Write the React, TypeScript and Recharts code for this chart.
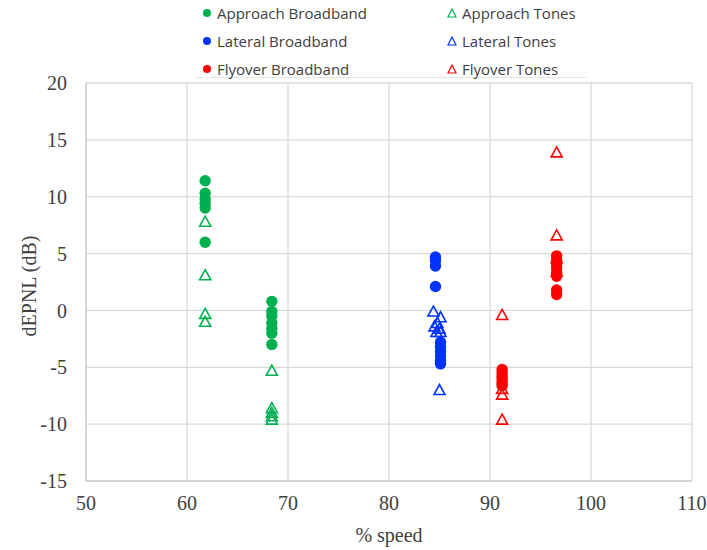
import React from 'react';
import { ScatterChart, Scatter, XAxis, YAxis, CartesianGrid } from 'recharts';

// % speed / dEPNL pairs, one pair of arrays per series
const approachBroadbandSpeed = [61.8, 61.8, 61.8, 61.8, 61.8, 61.8, 68.4, 68.4, 68.4, 68.4, 68.4, 68.4, 68.4];
const approachBroadbandDepnl = [11.4, 10.3, 9.8, 9.4, 9.0, 6.0, 0.8, -0.1, -0.5, -1.1, -1.6, -2.0, -3.0];

const approachTonesSpeed = [61.8, 61.8, 61.8, 61.8, 68.4, 68.4, 68.4, 68.4, 68.4];
const approachTonesDepnl = [7.8, 3.1, -0.3, -1.0, -5.3, -8.6, -9.0, -9.3, -9.6];

const lateralBroadbandSpeed = [84.6, 84.6, 84.6, 84.6, 85.1, 85.1, 85.1, 85.1, 85.1, 85.1];
const lateralBroadbandDepnl = [4.7, 4.4, 3.9, 2.1, -2.8, -3.2, -3.6, -4.0, -4.4, -4.7];

const lateralTonesSpeed = [84.4, 85.1, 84.8, 84.5, 85.0, 84.7, 85.1, 85.0];
const lateralTonesDepnl = [-0.1, -0.6, -1.1, -1.4, -1.6, -1.9, -1.9, -7.0];

const flyoverBroadbandSpeed = [91.2, 91.2, 91.2, 91.2, 91.2, 91.2, 96.6, 96.6, 96.6, 96.6, 96.6, 96.6, 96.6, 96.6];
const flyoverBroadbandDepnl = [-5.2, -5.5, -5.8, -6.1, -6.4, -6.6, 4.8, 4.4, 4.0, 3.7, 3.3, 3.0, 1.8, 1.4];

const flyoverTonesSpeed = [91.2, 91.2, 91.2, 91.2, 96.6, 96.6, 96.6, 96.6];
const flyoverTonesDepnl = [-0.4, -6.9, -7.4, -9.6, 13.9, 6.6, 4.6, 3.4];

const xTicks = [50, 60, 70, 80, 90, 100, 110];
const yTicks = [-15, -10, -5, 0, 5, 10, 15, 20];

const GREEN = '#00b050';
const BLUE = '#0033ff';
const RED = '#ff0000';

const pts = (xs: number[], ys: number[]) => xs.map((x, i) => ({ x, y: ys[i] }));

const series = [
  { name: 'Approach Broadband', color: GREEN, kind: 'dot', data: pts(approachBroadbandSpeed, approachBroadbandDepnl) },
  { name: 'Approach Tones', color: GREEN, kind: 'tri', data: pts(approachTonesSpeed, approachTonesDepnl) },
  { name: 'Lateral Broadband', color: BLUE, kind: 'dot', data: pts(lateralBroadbandSpeed, lateralBroadbandDepnl) },
  { name: 'Lateral Tones', color: BLUE, kind: 'tri', data: pts(lateralTonesSpeed, lateralTonesDepnl) },
  { name: 'Flyover Broadband', color: RED, kind: 'dot', data: pts(flyoverBroadbandSpeed, flyoverBroadbandDepnl) },
  { name: 'Flyover Tones', color: RED, kind: 'tri', data: pts(flyoverTonesSpeed, flyoverTonesDepnl) },
];

const makeShape = (kind: string, color: string) => (props: any) => {
  const { cx, cy } = props;
  if (kind === 'dot') return <circle cx={cx} cy={cy} r={5.7} fill={color} />;
  return (
    <path
      d={`M${cx},${cy - 5.5} L${cx + 5.5},${cy + 4.5} L${cx - 5.5},${cy + 4.5} Z`}
      fill="none"
      stroke={color}
      strokeWidth={1.6}
    />
  );
};

const axisFont = { fontFamily: '"Liberation Serif", "Times New Roman", serif', fontSize: 20, fill: '#404040' };

const YTitle = ({ viewBox }: any) => {
  const cx = 29;
  const cy = viewBox.y + viewBox.height / 2 + 4;
  return (
    <text x={cx} y={cy} transform={`rotate(-90 ${cx} ${cy})`} textAnchor="middle" dominantBaseline="central" {...axisFont}>
      dEPNL (dB)
    </text>
  );
};

const XTitle = ({ viewBox }: any) => (
  <text x={viewBox.x + viewBox.width / 2} y={535} textAnchor="middle" dominantBaseline="central" {...axisFont}>
    % speed
  </text>
);

const LegendBox = () => (
  <div style={{ position: 'absolute', left: 196, top: 0, width: 390, height: 77, borderBottom: '1px solid #e6e6e6' }}>
    {series.map((s, i) => {
      const col = i % 2;
      const row = Math.floor(i / 2);
      return (
        <div
          key={s.name}
          style={{
            position: 'absolute',
            left: col === 0 ? 5 : 250,
            top: 13 + row * 28 - 10,
            height: 20,
            display: 'flex',
            alignItems: 'center',
            fontFamily: '"Open Sans", sans-serif',
            fontSize: 15,
            color: '#404040',
            whiteSpace: 'nowrap',
          }}
        >
          <svg width={12} height={12} style={{ marginRight: 4 }}>
            {s.kind === 'dot' ? (
              <circle cx={6} cy={6} r={4} fill={s.color} />
            ) : (
              <path d="M6,2 L10,10 L2,10 Z" fill="none" stroke={s.color} strokeWidth={1.2} />
            )}
          </svg>
          {s.name}
        </div>
      );
    })}
  </div>
);

export default function App() {
  return (
    <div style={{ position: 'absolute', left: 0, top: 0, width: 707, height: 550, background: '#fff' }}>
      <ScatterChart width={707} height={550} margin={{ top: 83, right: 15, bottom: 0, left: 0 }}>
        <CartesianGrid stroke="#d9d9d9" strokeWidth={1.3} />
        <XAxis
          type="number"
          dataKey="x"
          domain={[50, 110]}
          ticks={xTicks}
          interval={0}
          height={69}
          tickLine={false}
          tickMargin={9}
          axisLine={{ stroke: '#cfcfcf', strokeWidth: 1.3 }}
          tick={axisFont}
          label={<XTitle />}
        />
        <YAxis
          type="number"
          dataKey="y"
          domain={[-15, 20]}
          ticks={yTicks}
          interval={0}
          width={86}
          tickLine={false}
          tickMargin={13}
          axisLine={{ stroke: '#cfcfcf', strokeWidth: 1.3 }}
          tick={axisFont}
          label={<YTitle />}
        />
        {series.map((s) => (
          <Scatter
            key={s.name}
            name={s.name}
            data={s.data}
            shape={makeShape(s.kind, s.color)}
            isAnimationActive={false}
          />
        ))}
      </ScatterChart>
      <LegendBox />
    </div>
  );
}
